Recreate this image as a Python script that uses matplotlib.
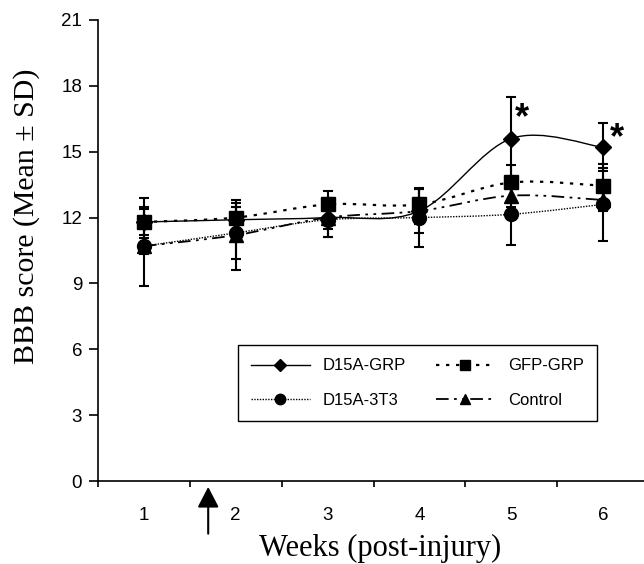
import matplotlib
matplotlib.use("Agg")
import matplotlib.pyplot as plt
from matplotlib.path import Path
from matplotlib.patches import PathPatch
from matplotlib.lines import Line2D

# data
weeks = [1, 2, 3, 4, 5, 6]
tick_edges = [0.5, 1.5, 2.5, 3.5, 4.5, 5.5, 6.5]
y_ticks = [0, 3, 6, 9, 12, 15, 18, 21]

d15a_grp = [11.8, 11.9, 12.0, 12.3, 15.6, 15.2]
d15a_grp_sd = [0.6, 0.6, 0.9, 1.0, 1.9, 1.1]
gfp_grp = [11.8, 12.0, 12.6, 12.6, 13.6, 13.45]
gfp_grp_sd = [1.1, 0.65, 0.6, 0.7, 0.8, 1.0]
d15a_3t3 = [10.7, 11.3, 11.9, 12.0, 12.15, 12.6]
d15a_3t3_sd = [1.8, 1.2, 0.8, 1.35, 1.4, 1.65]
control = [10.7, 11.2, 12.0, 12.3, 13.0, 12.8]
control_sd = [0.35, 1.6, 0.5, 0.6, 0.5, 0.5]

# significance stars (x, y) and the treatment arrow
stars_x = [5.12, 6.15]
stars_y = [16.5, 15.6]
arrow_week = 1.7

SANS = ["Liberation Sans", "DejaVu Sans"]
SERIF = ["Liberation Serif", "DejaVu Serif"]


def smooth_path(x, y):
    # excel style smoothed line: cubic bezier segments through the points
    n = len(x)
    verts = [(x[0], y[0])]
    codes = [Path.MOVETO]
    for i in range(n - 1):
        x0, y0 = (x[i - 1], y[i - 1]) if i > 0 else (x[i], y[i])
        x3, y3 = (x[i + 2], y[i + 2]) if i + 2 < n else (x[i + 1], y[i + 1])
        c1 = (x[i] + (x[i + 1] - x0) / 6, y[i] + (y[i + 1] - y0) / 6)
        c2 = (x[i + 1] - (x3 - x[i]) / 6, y[i + 1] - (y3 - y[i]) / 6)
        verts += [c1, c2, (x[i + 1], y[i + 1])]
        codes += [Path.CURVE4] * 3
    return Path(verts, codes)


series = [
    ("D15A-GRP", d15a_grp, d15a_grp_sd, "-", 1.0, "D", 8),
    ("D15A-3T3", d15a_3t3, d15a_3t3_sd, (0, (1, 1)), 1.0, "o", 10),
    ("Control", control, control_sd, (0, (7, 3, 1.5, 3, 1.5, 3)), 1.3, "^", 10),
    ("GFP-GRP", gfp_grp, gfp_grp_sd, (0, (1.5, 3)), 1.6, "s", 10),
]

fig = plt.figure(figsize=(6.44, 5.64), dpi=100)
ax = fig.add_axes([98 / 644, 83 / 564, 551 / 644, 461 / 564])

handles = {}
for name, mean, sd, ls, lw, mk, ms in series:
    ax.add_patch(PathPatch(smooth_path(weeks, mean), fill=False, edgecolor="black",
                           linestyle=ls, linewidth=lw))
    ax.errorbar(weeks, mean, yerr=sd, fmt="none", ecolor="black", elinewidth=1.5,
                capsize=3.8, capthick=1.5)
    ax.plot(weeks, mean, linestyle="none", marker=mk, markersize=ms, color="black")
    handles[name] = Line2D([], [], color="black", linestyle=ls, linewidth=lw,
                           marker=mk, markersize=ms * 0.75)

for sx, sy in zip(stars_x, stars_y):
    ax.text(sx, sy, "*", fontsize=26, fontweight="bold",
            family=SANS, ha="center", va="center")

ax.annotate("", xy=(arrow_week, -0.27), xytext=(arrow_week, -2.4),
            annotation_clip=False,
            arrowprops=dict(arrowstyle="-|>,head_length=0.5,head_width=0.26",
                            mutation_scale=25, color="black", lw=1.5,
                            shrinkA=0, shrinkB=0))

ax.set_xlim(0.5, 6.5)
ax.set_ylim(0, 21)
ax.set_yticks(y_ticks)
ax.set_yticklabels([str(v) for v in y_ticks], family=SANS, fontsize=13.5)
ax.set_xticks(tick_edges)
ax.set_xticklabels([])
ax.set_xticks(weeks, minor=True)
ax.set_xticklabels([str(w) for w in weeks], minor=True, family=SANS, fontsize=13.5)
ax.tick_params(axis="y", which="major", direction="out", length=6.5, width=1.2, pad=5)
ax.tick_params(axis="x", which="major", direction="out", length=4.5, width=1.2)
ax.tick_params(axis="x", which="minor", length=0, pad=19)

for side in ("top", "right"):
    ax.spines[side].set_visible(False)
for side in ("left", "bottom"):
    ax.spines[side].set_linewidth(1.2)

ax.set_ylabel("BBB score (Mean \u00b1 SD)", family=SERIF, fontsize=21.5)
ax.yaxis.set_label_coords(-0.105, 0.575)
ax.set_xlabel("Weeks (post-injury)", family=SERIF, fontsize=22)
ax.xaxis.set_label_coords(0.512, -0.114)

order = ["D15A-GRP", "D15A-3T3", "GFP-GRP", "Control"]
leg = ax.legend([handles[k] for k in order], order, ncol=2, loc="upper left",
                bbox_to_anchor=(0.254, 0.295), borderaxespad=0,
                prop={"family": SANS, "size": 12}, frameon=True, fancybox=False,
                edgecolor="black", framealpha=1, handlelength=3.5,
                columnspacing=1.8, labelspacing=1.15, borderpad=0.8)
leg.get_frame().set_linewidth(1.0)

fig.savefig("out.png", dpi=100)
